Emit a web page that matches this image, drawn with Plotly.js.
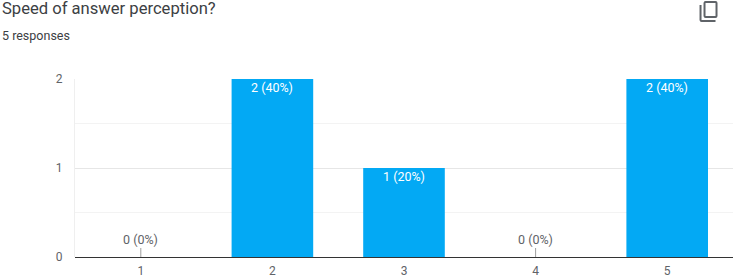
<!DOCTYPE html>
<html>
<head>
<meta charset="utf-8">
<script src="https://cdn.plot.ly/plotly-3.0.1.min.js"></script>
<style>html,body{margin:0;padding:0;background:#fff;overflow:hidden}</style>
</head>
<body>
<div id="chart" style="width:735px;height:278px"></div>
<script>
const categories = ['1', '2', '3', '4', '5'];
const counts = [0, 2, 1, 0, 2];
const labels = ['0 (0%)', '2 (40%)', '1 (20%)', '0 (0%)', '2 (40%)'];
const titleText = 'Speed of answer perception?';
const subtitleText = '5 responses';
const barColor = '#03a9f4';
const W = 735, H = 278;
const mL = 75, mR = 1.5, mT = 79, mB = 21;
const plotW = W - mL - mR, plotH = H - mT - mB;
const fx = v => (v - mL) / plotW, fy = v => (H - mB - v) / plotH;
const labelFont = color => ({family: 'Roboto, sans-serif', size: 12.5, color});

const valueNotes = categories.map((c, i) => counts[i] === 0 ? {
  x: i, y: counts[i], xref: 'x', yref: 'y', text: labels[i],
  showarrow: true, arrowhead: 0, arrowwidth: 1, arrowcolor: '#9e9e9e',
  ax: 0, ay: -18, standoff: 0, font: labelFont('#5f6368')
} : {
  x: i, y: counts[i], xref: 'x', yref: 'y', text: labels[i],
  showarrow: false, yanchor: 'top', yshift: 1, font: labelFont('#ffffff')
});

Plotly.newPlot('chart', [{
  type: 'bar', x: categories, y: counts,
  marker: {color: barColor, line: {width: 0}},
  hoverinfo: 'skip', width: 0.62
}], {
  width: W, height: H,
  margin: {l: mL, r: mR, t: mT, b: mB, pad: 0},
  paper_bgcolor: '#fff', plot_bgcolor: '#fff',
  showlegend: false,
  title: {text: titleText, x: 2 / W, xanchor: 'left', xref: 'container', yref: 'container',
    y: 1 - 8 / H, yanchor: 'middle', pad: {t: 0, b: 0, l: 0, r: 0},
    font: {family: 'Roboto, sans-serif', size: 16.6, color: '#3c4043'}},
  xaxis: {type: 'category', tickfont: {family: 'Roboto, sans-serif', size: 12, color: '#5f6368'},
    showgrid: false, showline: false, zeroline: false, ticks: '', ticklen: 0, ticklabelstandoff: 5},
  yaxis: {range: [0, 2], tickvals: [0, 1, 2], ticktext: ['0', '1', '2'],
    tickfont: {family: 'Roboto, sans-serif', size: 12, color: '#5f6368'},
    showgrid: true, gridcolor: '#e6e6e6', gridwidth: 1,
    minor: {tickvals: [0.5, 1.5], showgrid: true, gridcolor: '#f3f3f3', gridwidth: 1},
    zeroline: true, zerolinecolor: '#333333', zerolinewidth: 1,
    showline: true, linecolor: '#efefef', linewidth: 1, ticks: '', ticklen: 0, ticklabelstandoff: 9},
  annotations: [
    ...valueNotes,
    {xref: 'paper', yref: 'paper', x: fx(1), y: fy(35), yanchor: 'middle', xanchor: 'left',
     text: subtitleText, showarrow: false, borderpad: 0,
     font: {family: 'Roboto, sans-serif', size: 12.5, color: '#3c4043'}}
  ],
  images: [{
    source: 'data:image/svg+xml;utf8,' + encodeURIComponent('<svg xmlns="http://www.w3.org/2000/svg" width="24" height="24" viewBox="0 0 24 24"><path fill="#5f6368" d="M3 5h2v15h14v2H5a2 2 0 0 1-2-2z"/><path fill="#5f6368" fill-rule="evenodd" d="M9 1h10a2 2 0 0 1 2 2v13a2 2 0 0 1-2 2H9a2 2 0 0 1-2-2V3a2 2 0 0 1 2-2zm0 2v13h10V3z"/></svg>'),
    xref: 'paper', yref: 'paper', xanchor: 'left', yanchor: 'top', sizing: 'stretch',
    x: fx(697), y: fy(0), sizex: 24 / plotW, sizey: 24 / plotH, layer: 'above'
  }]
}, {displayModeBar: false, staticPlot: true});
</script>
</body>
</html>
